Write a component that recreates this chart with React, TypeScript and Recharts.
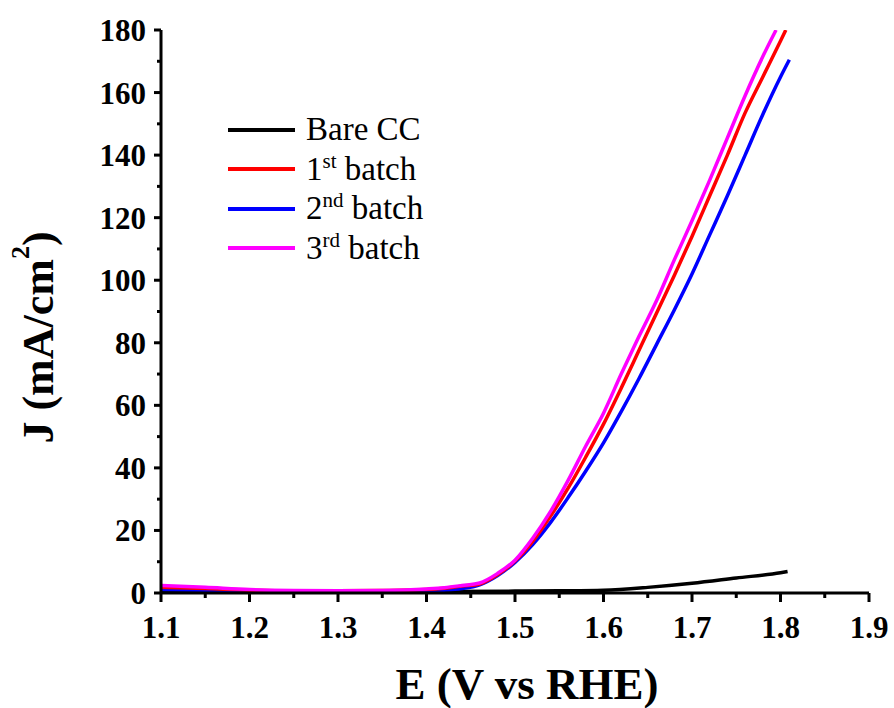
import React from 'react';
import { LineChart, Line, XAxis, YAxis, Label } from 'recharts';

// E (V vs RHE) / J (mA/cm2)
const bareE = [1.1, 1.2, 1.3, 1.4, 1.5, 1.55, 1.6, 1.65, 1.7, 1.75, 1.8, 1.808];
const bareJ = [0.6, 0.5, 0.5, 0.5, 0.6, 0.7, 0.9, 1.8, 3.1, 4.8, 6.5, 6.9];

const batch1E = [1.1, 1.15, 1.2, 1.25, 1.3, 1.35, 1.4, 1.42, 1.44, 1.46, 1.48, 1.5, 1.52, 1.54, 1.56, 1.58, 1.6, 1.62, 1.64, 1.66, 1.68, 1.7, 1.72, 1.74, 1.76, 1.78, 1.8, 1.806];
const batch1J = [1.8, 1.4, 0.9, 0.7, 0.7, 0.8, 1.1, 1.5, 2.2, 2.9, 5.8, 10.2, 16.5, 24.5, 33.5, 43.5, 54, 65.5, 77.5, 89.5, 101.5, 114, 127, 140, 153.5, 165, 176.5, 180];

const batch2E = [1.1, 1.15, 1.2, 1.25, 1.3, 1.35, 1.4, 1.42, 1.44, 1.46, 1.48, 1.5, 1.52, 1.54, 1.56, 1.58, 1.6, 1.62, 1.64, 1.66, 1.68, 1.7, 1.72, 1.74, 1.76, 1.78, 1.8, 1.81];
const batch2J = [1.1, 0.9, 0.6, 0.5, 0.5, 0.5, 0.7, 0.9, 1.4, 2.6, 5.5, 9.8, 15.5, 22.5, 30.5, 39, 48, 58, 68.5, 79.5, 90.5, 102, 114.5, 127, 140, 153, 165, 170.5];

const batch3E = [1.1, 1.15, 1.2, 1.25, 1.3, 1.35, 1.4, 1.42, 1.44, 1.46, 1.48, 1.5, 1.52, 1.54, 1.56, 1.58, 1.6, 1.62, 1.64, 1.66, 1.68, 1.7, 1.72, 1.74, 1.76, 1.78, 1.795];
const batch3J = [2.4, 1.8, 1.1, 0.8, 0.7, 0.8, 1.3, 1.7, 2.4, 3.2, 6.2, 10.5, 17.5, 26, 36, 47, 57.5, 70, 82, 93.5, 106.5, 119, 132, 145.5, 159, 171.5, 180];

const xTicks = [1.1, 1.15, 1.2, 1.25, 1.3, 1.35, 1.4, 1.45, 1.5, 1.55, 1.6, 1.65, 1.7, 1.75, 1.8, 1.85, 1.9];
const yTicks = [0, 10, 20, 30, 40, 50, 60, 70, 80, 90, 100, 110, 120, 130, 140, 150, 160, 170, 180];

const legendItems = [
  { name: 'Bare CC', sup: '', rest: '', color: '#000000' },
  { name: '1', sup: 'st', rest: ' batch', color: '#ff0000' },
  { name: '2', sup: 'nd', rest: ' batch', color: '#0000ff' },
  { name: '3', sup: 'rd', rest: ' batch', color: '#ff00ff' },
];

const FONT = "'Liberation Serif', 'Times New Roman', serif";

const zip = (e: number[], j: number[]) => e.map((x, i) => ({ e: x, j: j[i] }));

const XTick = ({ x, y, payload, index }: any) => {
  const major = index % 2 === 0;
  return (
    <g>
      <line x1={x} x2={x} y1={y} y2={y + (major ? 9 : 5)} stroke="#000" strokeWidth={3} />
      {major && (
        <text x={x} y={y + 45} textAnchor="middle" fontSize={31} fontWeight="bold" style={{ fontFamily: FONT }} fill="#000">
          {Number(payload.value).toFixed(1)}
        </text>
      )}
    </g>
  );
};

const YTick = ({ x, y, payload, index }: any) => {
  const major = index % 2 === 0;
  return (
    <g>
      <line x1={x} x2={x - (major ? 7 : 4)} y1={y} y2={y} stroke="#000" strokeWidth={3} />
      {major && (
        <text x={x - 15} y={y + 11} textAnchor="end" fontSize={31} fontWeight="bold" style={{ fontFamily: FONT }} fill="#000">
          {payload.value}
        </text>
      )}
    </g>
  );
};

const LegendBox = () => (
  <div style={{ position: 'absolute', left: 228, top: 110, fontFamily: FONT, fontSize: 33, color: '#000' }}>
    {legendItems.map((it) => (
      <div key={it.color} style={{ display: 'flex', alignItems: 'center', height: 39.5 }}>
        <span style={{ display: 'inline-block', width: 67, height: 4, background: it.color, marginRight: 11 }} />
        <span style={{ lineHeight: 1, whiteSpace: 'pre' }}>
          {it.name}
          {it.sup && <sup style={{ fontSize: 21, verticalAlign: 'top', position: 'relative', top: -2 }}>{it.sup}</sup>}
          {it.rest}
        </span>
      </div>
    ))}
  </div>
);

export default function App() {
  return (
    <div style={{ position: 'absolute', left: 0, top: 0, width: 894, height: 708, background: '#fff', fontFamily: FONT }}>
      <LineChart width={894} height={708} margin={{ top: 30, right: 25, bottom: 0, left: 0 }}>
        <XAxis
          dataKey="e" type="number" domain={[1.1, 1.9]} ticks={xTicks} allowDataOverflow
          height={115} tickSize={0} tickMargin={0} tickLine={false}
          axisLine={{ stroke: '#000', strokeWidth: 3 }} tick={<XTick />} interval={0}
        >
          <Label
            content={({ viewBox }: any) => (
              <text x={viewBox.x + viewBox.width / 2 + 12} y={viewBox.y + 106} textAnchor="middle"
                fontSize={45} fontWeight="bold" style={{ fontFamily: FONT }} fill="#000">
                E (V vs RHE)
              </text>
            )}
          />
        </XAxis>
        <YAxis
          dataKey="j" type="number" domain={[0, 180]} ticks={yTicks} allowDataOverflow
          width={161} tickSize={0} tickMargin={0} tickLine={false}
          axisLine={{ stroke: '#000', strokeWidth: 3 }} tick={<YTick />} interval={0}
        >
          <Label
            content={({ viewBox }: any) => {
              const cy = viewBox.y + viewBox.height / 2 + 26;
              return (
                <text x={38} y={cy} transform={`rotate(-90 38 ${cy})`} textAnchor="middle" dominantBaseline="central"
                  fontSize={44} fontWeight="bold" style={{ fontFamily: FONT }} fill="#000">
                  J (mA/cm<tspan fontSize={26} dy={-18}>2</tspan><tspan dy={18}>)</tspan>
                </text>
              );
            }}
          />
        </YAxis>
        <Line data={zip(bareE, bareJ)} dataKey="j" name="Bare CC" stroke="#000000" strokeWidth={3.5} dot={false} type="monotone" isAnimationActive={false} />
        <Line data={zip(batch2E, batch2J)} dataKey="j" name="2nd batch" stroke="#0000ff" strokeWidth={3.5} dot={false} type="monotone" isAnimationActive={false} />
        <Line data={zip(batch1E, batch1J)} dataKey="j" name="1st batch" stroke="#ff0000" strokeWidth={3.5} dot={false} type="monotone" isAnimationActive={false} />
        <Line data={zip(batch3E, batch3J)} dataKey="j" name="3rd batch" stroke="#ff00ff" strokeWidth={3.5} dot={false} type="monotone" isAnimationActive={false} />
      </LineChart>
      <LegendBox />
    </div>
  );
}
